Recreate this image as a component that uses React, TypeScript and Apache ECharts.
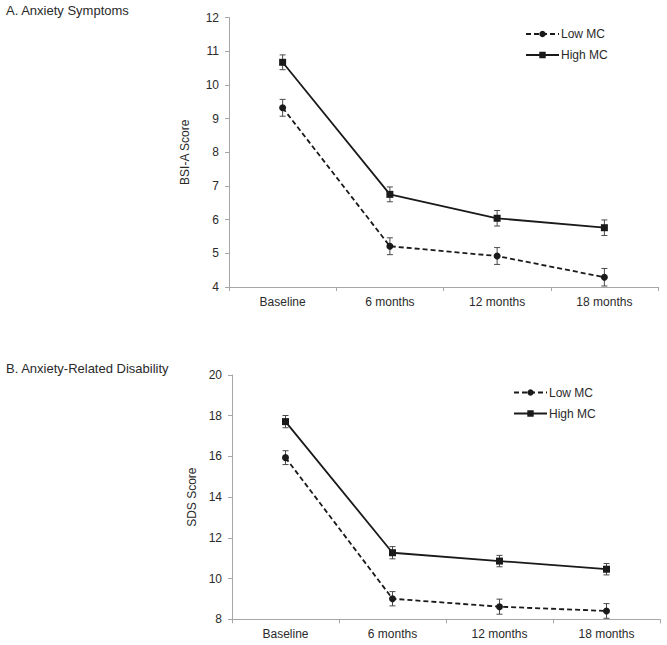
import React, { useEffect, useRef } from "react";
import * as echarts from "echarts";

const categories = ["Baseline", "6 months", "12 months", "18 months"];
const seriesNames = ["Low MC", "High MC"];

const bsiLow = [9.32, 5.21, 4.92, 4.29];
const bsiLowErr = [0.25, 0.25, 0.25, 0.26];
const bsiHigh = [10.67, 6.75, 6.04, 5.76];
const bsiHighErr = [0.22, 0.22, 0.23, 0.23];

const sdsLow = [15.94, 9.01, 8.62, 8.41];
const sdsLowErr = [0.34, 0.35, 0.37, 0.36];
const sdsHigh = [17.71, 11.27, 10.86, 10.46];
const sdsHighErr = [0.3, 0.3, 0.28, 0.28];

const panelTitles = ["A. Anxiety Symptoms", "B. Anxiety-Related Disability"];
const yNames = ["BSI-A Score", "SDS Score"];

const FONT = "'Liberation Sans', Arial, sans-serif";
const TEXT = "#2a2a2a";
const AXIS = "#a6a6a6";
const LINE = "#1a1a1a";
const ERR = "#4a4a4a";

function errData(vals: number[], errs: number[]) {
  return vals.map((v, i) => [i, v - errs[i], v + errs[i]]);
}

function errorSeries(idx: number, vals: number[], errs: number[]) {
  return {
    type: "custom",
    xAxisIndex: idx,
    yAxisIndex: idx,
    z: 1,
    silent: true,
    encode: { x: 0, y: [1, 2] },
    data: errData(vals, errs),
    renderItem: (params: any, api: any) => {
      const x = api.value(0);
      const lo = api.coord([x, api.value(1)]);
      const hi = api.coord([x, api.value(2)]);
      const w = 3;
      const st = { stroke: ERR, lineWidth: 1 };
      return {
        type: "group",
        children: [
          { type: "line", shape: { x1: lo[0], y1: lo[1], x2: hi[0], y2: hi[1] }, style: st },
          { type: "line", shape: { x1: lo[0] - w, y1: lo[1], x2: lo[0] + w, y2: lo[1] }, style: st },
          { type: "line", shape: { x1: hi[0] - w, y1: hi[1], x2: hi[0] + w, y2: hi[1] }, style: st },
        ],
      };
    },
  };
}

function lineSeries(idx: number, name: string, vals: number[], dashed: boolean) {
  return {
    type: "line",
    name,
    xAxisIndex: idx,
    yAxisIndex: idx,
    z: 3,
    data: vals,
    symbol: dashed ? "circle" : "rect",
    symbolSize: 7,
    lineStyle: { color: LINE, width: 1.8, type: dashed ? [5, 3] : "solid" },
    itemStyle: { color: LINE },
  };
}

function xAxis(idx: number) {
  return {
    type: "category",
    gridIndex: idx,
    data: categories,
    boundaryGap: true,
    axisLine: { lineStyle: { color: AXIS, width: 1 } },
    axisTick: { show: true, length: 4, lineStyle: { color: AXIS } },
    axisLabel: { color: TEXT, fontSize: 12, fontFamily: FONT, margin: 9 },
  };
}

function yAxis(idx: number, min: number, max: number, interval: number, gap: number) {
  return {
    type: "value",
    gridIndex: idx,
    min,
    max,
    interval,
    name: yNames[idx],
    nameLocation: "middle",
    nameGap: gap,
    nameTextStyle: { color: TEXT, fontSize: 12, fontFamily: FONT },
    axisLine: { show: true, lineStyle: { color: AXIS, width: 1 } },
    axisTick: { show: true, length: 4, lineStyle: { color: AXIS } },
    axisLabel: { color: TEXT, fontSize: 12, fontFamily: FONT, margin: 10 },
    splitLine: { show: false },
  };
}

function legend(left: number, top: number) {
  return {
    orient: "vertical",
    left,
    top,
    data: seriesNames,
    itemWidth: 33,
    itemHeight: 8,
    itemGap: 9,
    padding: 0,
    selectedMode: false,
    textStyle: { color: TEXT, fontSize: 12, fontFamily: FONT, padding: [0, 0, 0, -3] },
  };
}

export default function App() {
  const ref = useRef<HTMLDivElement>(null);
  useEffect(() => {
    document.body.style.margin = "0";
    if (!ref.current) return;
    const chart = echarts.init(ref.current, undefined, { renderer: "svg" });
    chart.setOption({
      animation: false,
      backgroundColor: "#ffffff",
      textStyle: { fontFamily: FONT },
      title: [
        {
          text: panelTitles[0],
          left: 6,
          top: 4,
          padding: 0,
          textStyle: { color: TEXT, fontSize: 13, fontWeight: "normal", fontFamily: FONT },
        },
        {
          text: panelTitles[1],
          left: 6,
          top: 362,
          padding: 0,
          textStyle: { color: TEXT, fontSize: 13, fontWeight: "normal", fontFamily: FONT },
        },
      ],
      legend: [legend(525, 28), legend(513, 386.5)],
      grid: [
        { left: 229, right: 9, top: 17.5, height: 269.5 },
        { left: 232, right: 7, top: 375, height: 244.3 },
      ],
      xAxis: [xAxis(0), xAxis(1)],
      yAxis: [yAxis(0, 4, 12, 1, 38), yAxis(1, 8, 20, 2, 29)],
      series: [
        errorSeries(0, bsiLow, bsiLowErr),
        errorSeries(0, bsiHigh, bsiHighErr),
        lineSeries(0, seriesNames[0], bsiLow, true),
        lineSeries(0, seriesNames[1], bsiHigh, false),
        errorSeries(1, sdsLow, sdsLowErr),
        errorSeries(1, sdsHigh, sdsHighErr),
        lineSeries(1, seriesNames[0], sdsLow, true),
        lineSeries(1, seriesNames[1], sdsHigh, false),
      ],
    });
    return () => chart.dispose();
  }, []);
  return <div ref={ref} style={{ width: 667, height: 645 }} />;
}
